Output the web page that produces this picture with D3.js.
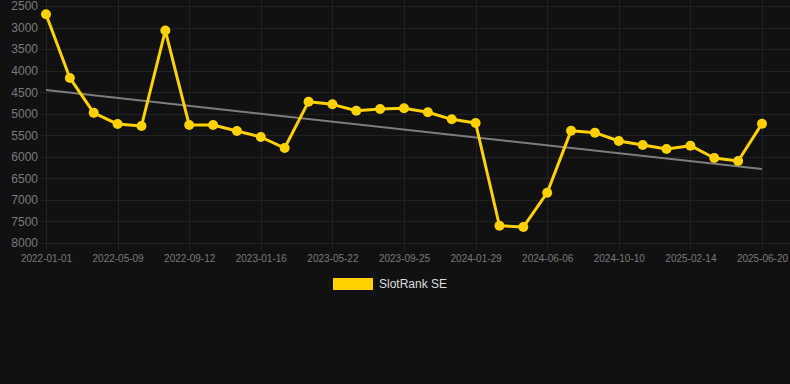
<!DOCTYPE html>
<html>
<head>
<meta charset="utf-8">
<script src="https://cdn.jsdelivr.net/npm/d3@7"></script>
<style>
  html, body { margin: 0; padding: 0; background: #111111; }
  svg { display: block; font-family: "Liberation Sans", Arial, sans-serif; }
  .grid line { stroke: #222222; stroke-width: 1; }
  .tick text { fill: #7a7a7a; }
</style>
</head>
<body>
<div id="main-chart"></div>
<script>
// Rank values, one per snapshot (lower rank = higher on chart, axis reversed)
var rankValues = [
  2690, 4170, 4980, 5240, 5285, 3070, 5262, 5262, 5400, 5540,
  5796, 4720, 4782, 4930, 4890, 4874, 4967, 5130, 5216, 7600,
  7630, 6833, 5393, 5440, 5633, 5726, 5819, 5742, 6028, 6098,
  5231
];
// Labels shown under every third snapshot
var tickLabels = [
  "2022-01-01", "2022-05-09", "2022-09-12", "2023-01-16", "2023-05-22",
  "2023-09-25", "2024-01-29", "2024-06-06", "2024-10-10", "2025-02-14",
  "2025-06-20"
];
var yTicks = [2500, 3000, 3500, 4000, 4500, 5000, 5500, 6000, 6500, 7000, 7500, 8000];
// Trend line end values (first and last snapshot)
var trendValues = [4450, 6283];
var seriesName = "SlotRank SE";

var width = 790, height = 384;
var gridLeft = 40, gridRight = 790;

var xScale = d3.scalePoint()
  .domain(d3.range(rankValues.length))
  .range([46, 762]);

var yScale = d3.scaleLinear()
  .domain([2500, 8000])
  .range([6, 243]);

var svg = d3.select("#main-chart")
  .append("svg")
  .attr("width", width)
  .attr("height", height);

// horizontal grid
svg.append("g")
  .attr("class", "grid")
  .selectAll("line")
  .data(yTicks)
  .enter()
  .append("line")
  .attr("x1", gridLeft)
  .attr("x2", gridRight)
  .attr("y1", function(d) { return Math.round(yScale(d)) + 0.5; })
  .attr("y2", function(d) { return Math.round(yScale(d)) + 0.5; });

// vertical grid at labelled snapshots
var labelled = xScale.domain().filter(function(i) { return i % 3 === 0; });
svg.append("g")
  .attr("class", "grid")
  .selectAll("line")
  .data(labelled)
  .enter()
  .append("line")
  .attr("x1", function(d) { return Math.round(xScale(d)) + 0.5; })
  .attr("x2", function(d) { return Math.round(xScale(d)) + 0.5; })
  .attr("y1", 0)
  .attr("y2", 250);

// y axis labels
svg.append("g")
  .attr("transform", "translate(38,0)")
  .call(d3.axisLeft(yScale).tickValues(yTicks).tickSize(0).tickPadding(0).tickFormat(d3.format("d")))
  .call(function(g) { g.select(".domain").remove(); })
  .selectAll("text")
  .style("font-size", "12px");

// x axis labels
svg.append("g")
  .attr("transform", "translate(0,255)")
  .call(d3.axisBottom(xScale)
    .tickValues(labelled)
    .tickSize(0)
    .tickPadding(0)
    .tickFormat(function(i) { return tickLabels[i / 3]; }))
  .call(function(g) { g.select(".domain").remove(); })
  .selectAll("text")
  .style("font-size", "10px")
  .attr("dy", "0.71em");

// trend line
svg.append("line")
  .attr("x1", xScale(0))
  .attr("y1", yScale(trendValues[0]))
  .attr("x2", xScale(rankValues.length - 1))
  .attr("y2", yScale(trendValues[1]))
  .attr("stroke", "#7d7d7d")
  .attr("stroke-width", 2);

var lineGenerator = d3.line()
  .x(function(d, i) { return xScale(i); })
  .y(function(d) { return yScale(d); });

svg.append("path")
  .datum(rankValues)
  .attr("fill", "none")
  .attr("stroke", "#ffd100")
  .attr("stroke-width", 3)
  .attr("stroke-linejoin", "round")
  .attr("d", lineGenerator);

svg.selectAll(".dot")
  .data(rankValues)
  .enter()
  .append("circle")
  .attr("class", "dot")
  .attr("cx", function(d, i) { return xScale(i); })
  .attr("cy", function(d) { return yScale(d); })
  .attr("r", 5)
  .attr("fill", "#ffd100");

// legend
svg.append("rect")
  .attr("x", 333)
  .attr("y", 278)
  .attr("width", 40)
  .attr("height", 12)
  .attr("fill", "#ffd100");

svg.append("text")
  .attr("x", 379)
  .attr("y", 284)
  .attr("dy", "0.35em")
  .style("font-size", "12px")
  .style("fill", "#dddddd")
  .text(seriesName);
</script>
</body>
</html>
